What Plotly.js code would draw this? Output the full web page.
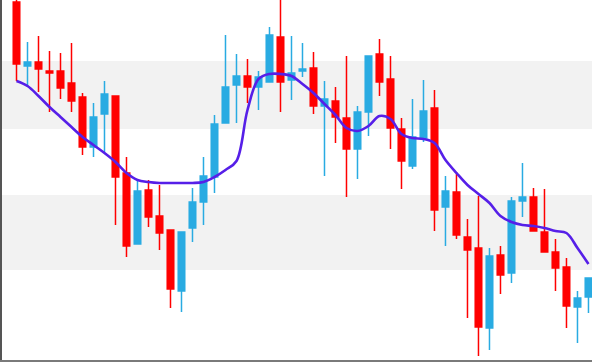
<!DOCTYPE html>
<html>
<head>
<meta charset="utf-8">
<script src="https://cdn.plot.ly/plotly-3.0.1.min.js"></script>
<style>html,body{margin:0;padding:0;background:#fff;}#chart{width:592px;height:362px;}</style>
</head>
<body>
<div id="chart"></div>
<script>
var idx = [];
for (var i = 0; i < 53; i++) idx.push(i);

var openV = [95.8,89.4,89.8,88.9,88.9,87.7,86.3,81.3,84.6,86.4,78.7,71.6,77.0,74.4,73.0,66.9,73.2,75.8,78.3,83.7,87.5,88.4,87.3,87.8,92.3,88.0,88.9,89.2,85.4,85.9,84.2,81.1,84.8,90.6,88.1,83.1,79.4,82.2,85.2,75.3,76.8,72.3,71.2,63.2,70.5,68.7,75.9,76.3,72.8,70.8,69.3,65.3,66.3];
var highV = [96.3,91.8,92.4,90.9,90.7,91.7,86.7,85.7,87.9,86.4,80.3,78.0,78.0,77.5,73.0,72.8,77.2,80.3,84.5,92.5,90.6,90.1,88.9,93.3,96.3,92.4,91.7,90.8,87.9,87.3,90.4,85.4,90.4,92.1,90.4,84.2,86.1,88.0,87.0,78.4,78.8,74.1,76.4,71.2,71.4,76.3,79.7,77.2,77.1,72.1,70.2,66.9,68.2];
var lowV = [87.9,87.3,86.8,84.8,86.1,84.8,80.5,80.3,80.8,73.5,70.3,71.6,73.3,71.0,65.2,64.8,71.8,73.5,76.7,83.7,83.7,85.7,85.0,87.8,84.8,86.0,88.3,84.6,78.4,81.7,76.3,78.1,82.4,86.4,81.1,77.1,79.1,81.8,72.9,71.4,72.1,64.2,60.4,61.0,66.6,67.7,74.3,72.9,70.8,66.9,63.2,61.7,64.7];
var closeV = [89.6,89.8,89.1,88.7,87.2,85.9,81.3,84.3,86.6,78.3,71.4,76.9,74.3,72.7,67.1,72.8,75.8,78.4,83.6,87.3,88.4,87.3,88.3,92.5,87.8,88.7,89.1,85.4,86.1,84.3,81.1,84.8,90.4,87.8,83.2,79.9,82.3,84.9,75.0,76.9,72.5,71.0,63.3,70.4,68.5,75.9,76.3,72.9,70.8,69.2,65.4,66.2,68.2];
var maV = [87.9,87.4,86.4,85.3,84.3,83.3,82.3,81.5,80.7,79.8,78.7,78.0,77.8,77.7,77.7,77.7,77.7,77.8,78.3,79.0,79.9,85.0,88.1,88.6,88.6,88.4,87.6,86.7,85.6,84.5,83.2,82.9,83.4,84.4,84.1,82.6,82.2,82.1,81.7,80.0,78.7,77.5,76.6,75.7,74.4,73.8,73.5,73.4,73.2,72.9,72.7,71.2,69.6];
var bandLow = [83.1, 69.0];
var bandHigh = [89.9, 76.5];

var upColor = '#29abe2';
var downColor = '#ff0000';

var traces = [
  {
    type: 'candlestick',
    x: idx, open: openV, high: highV, low: lowV, close: closeV,
    increasing: {line: {color: upColor, width: 1.5}, fillcolor: upColor},
    decreasing: {line: {color: downColor, width: 1.5}, fillcolor: downColor},
    hoverinfo: 'skip',
    showlegend: false
  },
  {
    type: 'scatter', mode: 'lines',
    x: idx, y: maV,
    line: {color: '#561fe8', width: 2.6, shape: 'spline', smoothing: 1},
    hoverinfo: 'skip',
    showlegend: false
  }
];

var shapes = [];
for (var b = 0; b < bandLow.length; b++) {
  shapes.push({type: 'rect', xref: 'paper', yref: 'y', x0: 0, x1: 1, y0: bandLow[b], y1: bandHigh[b],
    fillcolor: '#f2f2f2', line: {width: 0}, layer: 'below'});
}

var layout = {
  width: 592, height: 362,
  margin: {l: 2, r: 0, t: 0, b: 2, pad: 0},
  paper_bgcolor: '#ffffff', plot_bgcolor: '#ffffff',
  showlegend: false,
  hovermode: false,
  boxgap: 0.15,
  shapes: shapes,
  xaxis: {
    range: [-1.318, 52.32], showticklabels: false, ticks: '', showgrid: false, zeroline: false,
    showline: true, linecolor: '#7a7a7a', linewidth: 2,
    rangeslider: {visible: false}
  },
  yaxis: {
    range: [60, 96], showticklabels: false, ticks: '', showgrid: false, zeroline: false,
    showline: true, linecolor: '#555555', linewidth: 3
  }
};

Plotly.newPlot('chart', traces, layout, {displayModeBar: false, staticPlot: true});
</script>
</body>
</html>
